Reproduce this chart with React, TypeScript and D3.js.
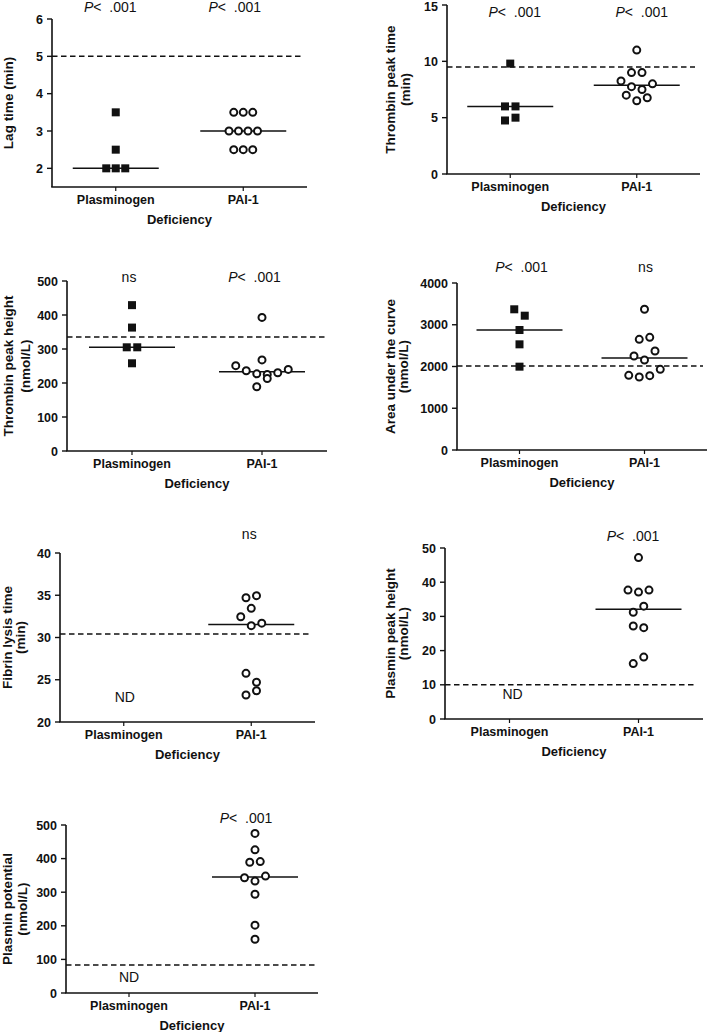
import React from "react";
import * as d3 from "d3";

// ---------- data ----------
const categories = ["Plasminogen", "PAI-1"];
const xTitle = "Deficiency";

// Lag time (min)
const lagPlg = [3.5, 2.5, 2, 2, 2];
const lagPlgSlot = [0, 0, -1, 0, 1];
const lagPai = [3.5, 3.5, 3.5, 3, 3, 3, 3, 2.5, 2.5, 2.5];
const lagPaiSlot = [-1, 0, 1, -1.5, -0.5, 0.5, 1.5, -1, 0, 1];
const lagRef = 5;
const lagTicks = [2, 3, 4, 5, 6];

// Thrombin peak time (min)
const ptpPlg = [9.8, 6.0, 6.0, 4.75, 5.0];
const ptpPlgSlot = [0, -0.5, 0.5, -0.5, 0.5];
const ptpPai = [11, 9.0, 9.0, 8.25, 7.75, 7.5, 8.0, 7.0, 6.5, 6.77];
const ptpPaiSlot = [0, -0.5, 0.5, -1.5, -0.5, 0.5, 1.5, -1, 0, 1];
const ptpRef = 9.5;
const ptpTicks = [0, 5, 10, 15];

// Thrombin peak height (nmol/L)
const tphPlg = [429, 363, 305, 305, 258];
const tphPlgSlot = [0, 0, -0.5, 0.5, 0];
const tphPai = [393, 268, 251, 236, 227, 225, 213, 230, 240, 189];
const tphPaiSlot = [0, 0, -2.5, -1.5, -0.5, 0.5, 0.5, 1.5, 2.5, -0.5];
const tphRef = 335;
const tphTicks = [0, 100, 200, 300, 400, 500];

// Area under the curve (nmol/L)
const aucPlg = [3370, 3217, 2874, 2531, 1996];
const aucPlgSlot = [-0.5, 0.5, 0, 0, 0];
const aucPai = [3370, 2651, 2699, 2251, 2156, 2371, 1932, 1788, 1749, 1780];
const aucPaiSlot = [0, -0.5, 0.5, -1, 0, 1, 1.5, -1.5, -0.5, 0.5];
const aucRef = 2010;
const aucTicks = [0, 1000, 2000, 3000, 4000];

// Fibrin lysis time (min)
const fltPai = [34.7, 34.95, 33.45, 32.46, 31.4, 31.7, 25.76, 24.7, 23.7, 23.2];
const fltPaiSlot = [-0.5, 0.5, 0, -1, 0, 1, -0.5, 0.5, 0.5, -0.5];
const fltRef = 30.4;
const fltTicks = [20, 25, 30, 35, 40];

// Plasmin peak height (nmol/L)
const pphPai = [47.2, 37.7, 37.1, 37.7, 33.0, 31.2, 27.2, 26.7, 18.1, 16.2];
const pphPaiSlot = [0, -1, 0, 1, 0.5, -0.5, -0.5, 0.5, 0.5, -0.5];
const pphRef = 10;
const pphTicks = [0, 10, 20, 30, 40, 50];

// Plasmin potential (nmol/L)
const ppPai = [475, 426, 389, 391, 343, 333, 348, 294, 202, 160];
const ppPaiSlot = [0, 0, -0.5, 0.5, -1, 0, 1, 0, 0, 0];
const ppRef = 83;
const ppTicks = [0, 100, 200, 300, 400, 500];

// annotations per group: "p" = P < .001, "ns", "ND"
const lagNotes = ["p", "p"];
const ptpNotes = ["p", "p"];
const tphNotes = ["ns", "p"];
const aucNotes = ["p", "ns"];
const fltNotes = ["ND", "ns"];
const pphNotes = ["ND", "p"];
const ppNotes = ["ND", "p"];

const panels = [
  { title: ["Lag time (min)"], domain: [1.5, 6], ticks: lagTicks, ref: lagRef, notes: lagNotes,
    groups: [{ v: lagPlg, s: lagPlgSlot }, { v: lagPai, s: lagPaiSlot }] },
  { title: ["Thrombin peak time", "(min)"], domain: [0, 15], ticks: ptpTicks, ref: ptpRef, notes: ptpNotes,
    groups: [{ v: ptpPlg, s: ptpPlgSlot }, { v: ptpPai, s: ptpPaiSlot }] },
  { title: ["Thrombin peak height", "(nmol/L)"], domain: [0, 500], ticks: tphTicks, ref: tphRef, notes: tphNotes,
    groups: [{ v: tphPlg, s: tphPlgSlot }, { v: tphPai, s: tphPaiSlot }] },
  { title: ["Area under the curve", "(nmol/L)"], domain: [0, 4000], ticks: aucTicks, ref: aucRef, notes: aucNotes,
    groups: [{ v: aucPlg, s: aucPlgSlot }, { v: aucPai, s: aucPaiSlot }] },
  { title: ["Fibrin lysis time", "(min)"], domain: [20, 40], ticks: fltTicks, ref: fltRef, notes: fltNotes,
    groups: [{ v: [], s: [] }, { v: fltPai, s: fltPaiSlot }] },
  { title: ["Plasmin peak height", "(nmol/L)"], domain: [0, 50], ticks: pphTicks, ref: pphRef, notes: pphNotes,
    groups: [{ v: [], s: [] }, { v: pphPai, s: pphPaiSlot }] },
  { title: ["Plasmin potential", "(nmol/L)"], domain: [0, 500], ticks: ppTicks, ref: ppRef, notes: ppNotes,
    groups: [{ v: [], s: [] }, { v: ppPai, s: ppPaiSlot }] },
];

// ---------- layout ----------
const layouts = [
  { x0: 52, x1: 307, yB: 187, yT: 19, dashEnd: 302, unit: 9.5, titleDx: [-44], noteY: -7, noteDx: [-5.5, -8.5], ndUp: 20 },
  { x0: 447, x1: 700, yB: 174, yT: 5, dashEnd: 695, unit: 10.5, titleDx: [-57, -42], noteY: 12, noteDx: [4.5, 5], ndUp: 20 },
  { x0: 67, x1: 327, yB: 451, yT: 281, dashEnd: 325, unit: 10.5, titleDx: [-59, -42], noteY: 1, noteDx: [-3, -7.5], ndUp: 20 },
  { x0: 457, x1: 707, yB: 450, yT: 283, dashEnd: 703, unit: 10.5, titleDx: [-67, -54], noteY: -11, noteDx: [2, 1], ndUp: 20 },
  { x0: 60, x1: 315, yB: 722, yT: 553, dashEnd: 310, unit: 10.5, titleDx: [-53, -40], noteY: -14, noteDx: [1, -2], ndUp: 20 },
  { x0: 445, x1: 703, yB: 719, yT: 548, dashEnd: 696, unit: 10.5, titleDx: [-55, -42], noteY: -7, noteDx: [3, -5.5], ndUp: 20 },
  { x0: 66, x1: 318, yB: 993, yT: 825, dashEnd: 315, unit: 10.5, titleDx: [-59, -44], noteY: -2, noteDx: [0, -9], ndUp: 11 },
];

const FONT = "'Liberation Sans', Arial, Helvetica, sans-serif";
const INK = "#111";

function Note({ kind, x, y, ndY }) {
  if (kind === "p") {
    return (
      <text x={x} y={y} textAnchor="middle" fontSize={14} fill={INK} style={{ whiteSpace: "pre" }}>
        <tspan fontStyle="italic">P</tspan>
        <tspan>{"<\u00a0\u00a0.001"}</tspan>
      </text>
    );
  }
  if (kind === "ns") {
    return <text x={x} y={y} textAnchor="middle" fontSize={14} fill={INK}>ns</text>;
  }
  if (kind === "ND") {
    return <text x={x} y={ndY} textAnchor="middle" fontSize={14} fill={INK}>ND</text>;
  }
  return null;
}

function Panel({ p, L }) {
  const y = d3.scaleLinear().domain(p.domain).range([L.yB, L.yT]);
  const x = d3.scalePoint().domain(categories).range([L.x0, L.x1]).padding(0.5);
  const midY = (L.yB + L.yT) / 2;
  const midX = (L.x0 + L.x1) / 2;
  return (
    <g>
      {/* y axis */}
      <line x1={L.x0} x2={L.x0} y1={L.yB} y2={L.yT} stroke={INK} strokeWidth={1.6} />
      {p.ticks.map((t) => (
        <g key={t}>
          <line x1={L.x0 - 5} x2={L.x0} y1={y(t)} y2={y(t)} stroke={INK} strokeWidth={1.4} />
          <text x={L.x0 - 9} y={Math.max(y(t), 6)} dy="0.36em" textAnchor="end" fontSize={12.5} fontWeight="bold" fill={INK}>
            {t}
          </text>
        </g>
      ))}
      {/* x axis */}
      <line x1={L.x0 - 0.8} x2={L.x1} y1={L.yB} y2={L.yB} stroke={INK} strokeWidth={1.6} />
      {categories.map((c) => (
        <g key={c}>
          <line x1={x(c)} x2={x(c)} y1={L.yB} y2={L.yB + 4} stroke={INK} strokeWidth={1.2} />
          <text x={x(c)} y={L.yB + 17} textAnchor="middle" fontSize={12.5} fontWeight="bold" fill={INK}>
            {c}
          </text>
        </g>
      ))}
      <text x={midX} y={L.yB + 37} textAnchor="middle" fontSize={13} fontWeight="bold" fill={INK}>
        {xTitle}
      </text>
      {/* y title */}
      {p.title.map((t, i) => (
        <text
          key={i}
          transform={`translate(${L.x0 + L.titleDx[i]},${midY}) rotate(-90)`}
          textAnchor="middle"
          dy="0.35em"
          fontSize={13.5}
          fontWeight="bold"
          fill={INK}
        >
          {t}
        </text>
      ))}
      {/* reference dashed line */}
      <line x1={L.x0} x2={L.dashEnd} y1={y(p.ref)} y2={y(p.ref)} stroke={INK} strokeWidth={1.5} strokeDasharray="5.5,3.5" />
      {/* groups */}
      {p.groups.map((g, gi) => {
        const cx = x(categories[gi]);
        if (!g.v.length) return null;
        const med = d3.median(g.v);
        return (
          <g key={gi}>
            <line x1={cx - 43} x2={cx + 43} y1={y(med)} y2={y(med)} stroke={INK} strokeWidth={1.5} />
            {g.v.map((v, i) =>
              gi === 0 ? (
                <rect key={i} x={cx + g.s[i] * L.unit - 4} y={y(v) - 4} width={8} height={8} fill={INK} />
              ) : (
                <circle key={i} cx={cx + g.s[i] * L.unit} cy={y(v)} r={3.5} fill="white" stroke={INK} strokeWidth={2} />
              )
            )}
          </g>
        );
      })}
      {/* annotations */}
      {p.notes.map((n, i) => (
        <Note key={i} kind={n} x={x(categories[i]) + L.noteDx[i]} y={L.yT + L.noteY} ndY={L.yB - L.ndUp} />
      ))}
    </g>
  );
}

export default function App() {
  return (
    <svg
      width={709}
      height={1032}
      style={{ position: "absolute", left: 0, top: 0, background: "white", fontFamily: FONT }}
      fontFamily={FONT}
    >
      <rect width={709} height={1032} fill="white" />
      {panels.map((p, i) => (
        <Panel key={i} p={p} L={layouts[i]} />
      ))}
    </svg>
  );
}
